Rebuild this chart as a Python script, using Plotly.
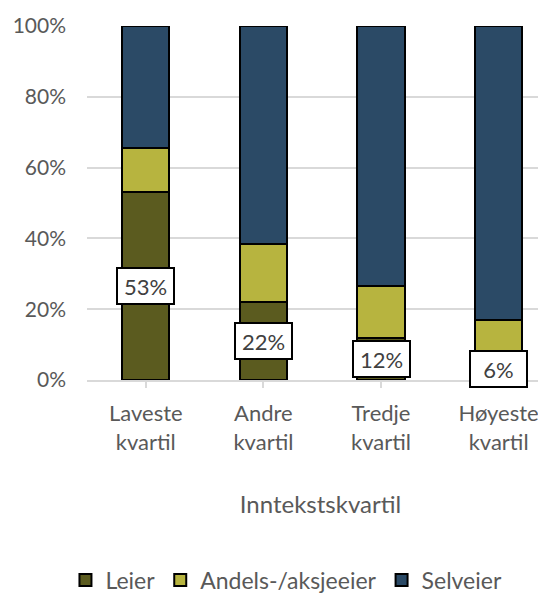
import plotly.graph_objects as go

categories = ["Laveste<br>kvartil", "Andre<br>kvartil", "Tredje<br>kvartil", "Høyeste<br>kvartil"]
leier = [53, 22, 12, 6]
andel = [12.5, 16.5, 14.5, 11]
selveier = [100 - a - b for a, b in zip(leier, andel)]
series_names = ["Leier", "Andels-/aksjeeier", "Selveier"]
colors = ["#5b5b1f", "#b7b43f", "#2b4a66"]
y_ticks = [0, 20, 40, 60, 80, 100]
y_ticklabels = [f"{v}%" for v in y_ticks]

FONT = "Lato, 'Open Sans', sans-serif"
TXT = "#595959"

fig = go.Figure()
for name, vals, col in zip(series_names, [leier, andel, selveier], colors):
    fig.add_trace(go.Bar(
        x=list(range(len(categories))), y=vals, name=name,
        marker=dict(color=col, line=dict(color="black", width=2)),
        width=0.40,
    ))

for i, v in enumerate(leier):
    fig.add_annotation(
        x=i, y=v / 2, xref="x", yref="y", text=f"{v}%", showarrow=False,
        font=dict(family=FONT, size=22, color="#404040"),
        bgcolor="white", bordercolor="black", borderwidth=2,
        borderpad=4, width=47, height=26,
    )

# page body has an 8px margin, so the figure is offset by 8px on screen
fig.update_layout(
    barmode="stack",
    width=546, height=596,
    margin=dict(l=79, r=0, t=18, b=224, autoexpand=False),
    paper_bgcolor="white", plot_bgcolor="white",
    font=dict(family=FONT, size=22, color=TXT),
    showlegend=True,
    legend=dict(
        orientation="h", xref="container", yref="container",
        x=0.51, y=0.040, xanchor="center", yanchor="middle",
        font=dict(family=FONT, size=23, color=TXT),
        itemwidth=30, tracegroupgap=0, traceorder="normal",
    ),
    xaxis=dict(
        tickmode="array", tickvals=list(range(len(categories))), ticktext=categories,
        range=[-0.5, 3.471], showgrid=False, automargin=False,
        showline=True, linecolor="#d9d9d9", linewidth=1.5,
        ticks="outside", ticklen=6, tickcolor="#d9d9d9", tickwidth=1.5,
        ticklabelstandoff=7,
        tickfont=dict(family=FONT, size=22, color=TXT),
        title=dict(text="Inntekstskvartil", standoff=42,
                   font=dict(family=FONT, size=24, color=TXT)),
    ),
    yaxis=dict(
        range=[0, 100], tickmode="array", tickvals=y_ticks, ticktext=y_ticklabels,
        showgrid=True, gridcolor="#d9d9d9", gridwidth=1.5, automargin=False,
        zeroline=False, showline=False, ticks="", ticklabelstandoff=20,
        tickfont=dict(family=FONT, size=21, color=TXT),
    ),
)

fig.update_xaxes(tickson="boundaries")

fig.write_html("out.html")
